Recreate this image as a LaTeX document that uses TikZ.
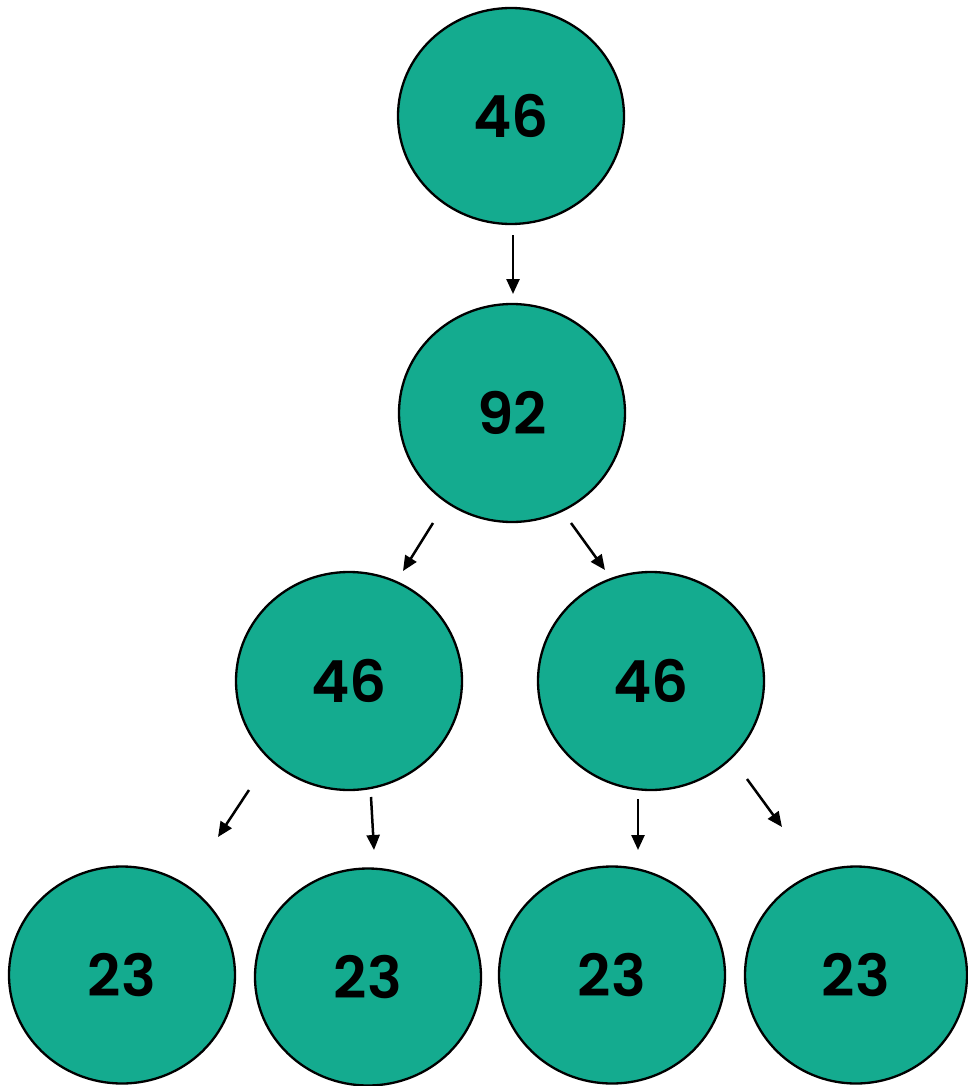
\documentclass[tikz,border=0pt]{standalone}
\usepackage{fontspec}
\setmainfont{Poppins}[BoldFont={* SemiBold}]
\usetikzlibrary{arrows.meta}
\definecolor{nodegreen}{HTML}{14AB8F}
\tikzset{
  num/.style={ellipse, draw=black, line width=2.3pt, fill=nodegreen, minimum width=#1, inner sep=0pt, font=\fontsize{58}{58}\selectfont\bfseries},
  num/.default=226pt,
  arr/.style={line width=2.5pt, -{Triangle[length=15pt,width=13pt]}}
}
\usetikzlibrary{shapes.geometric}
\begin{document}
\begin{tikzpicture}[x=1pt,y=-1pt]
\useasboundingbox (0,0) rectangle (968,1086);
\node[num, minimum height=216pt] (a) at (511,116) {46};
\node[num, minimum height=218pt] (b) at (512,413) {92};
\node[num, minimum height=218pt] (c) at (349,681) {46};
\node[num, minimum height=218pt] (d) at (651,681) {46};
\node[num, minimum height=217pt] (e) at (122,975) {23};
\node[num, minimum height=217pt] (f) at (368,977) {23};
\node[num, minimum height=217pt] (g) at (612,975) {23};
\node[num, minimum height=217pt, minimum width=222pt] (h) at (856,975) {23};
\coordinate (a1) at (513,235); \coordinate (a2) at (513,294);
\coordinate (b1) at (433,523); \coordinate (b2) at (403,571);
\coordinate (b3) at (571,523); \coordinate (b4) at (605,570);
\coordinate (c1) at (249,790); \coordinate (c2) at (218,837);
\coordinate (c3) at (371,797); \coordinate (c4) at (374,850);
\coordinate (d1) at (638,799); \coordinate (d2) at (638,850);
\coordinate (d3) at (747,779); \coordinate (d4) at (782,827);
\draw[arr] (a1) -- (a2);
\draw[arr] (b1) -- (b2);
\draw[arr] (b3) -- (b4);
\draw[arr] (c1) -- (c2);
\draw[arr] (c3) -- (c4);
\draw[arr] (d1) -- (d2);
\draw[arr] (d3) -- (d4);
\end{tikzpicture}
\end{document}
